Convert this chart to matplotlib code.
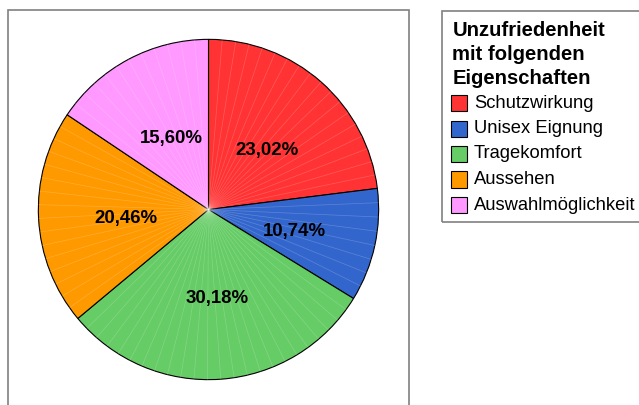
import matplotlib
matplotlib.use("Agg")
import matplotlib.pyplot as plt
from matplotlib.patches import Rectangle
import numpy as np

plt.rcParams['font.family'] = ['Liberation Sans', 'DejaVu Sans']

categories = ["Schutzwirkung", "Unisex Eignung", "Tragekomfort", "Aussehen", "Auswahlmöglichkeit"]
values = [23.02, 10.74, 30.18, 20.46, 15.60]
colors = ["#FF3333", "#3366CC", "#66CC66", "#FF9900", "#FF99FF"]
legend_title = "Unzufriedenheit\nmit folgenden\nEigenschaften"

W, H = 639, 405
fig = plt.figure(figsize=(W / 100, H / 100), dpi=100)
fig.patch.set_facecolor("white")

def fx(px):
    return px / W

def fy(py):  # py from top
    return 1 - py / H

# pie frame box
fig.patches.append(Rectangle((fx(7.5), fy(410)), fx(409) - fx(7.5), fy(9.5) - fy(410),
                             transform=fig.transFigure, fill=False,
                             edgecolor="#808080", lw=1.2))

cx, cy, r = 208.5, 209.5, 171
ax = fig.add_axes([fx(cx - r), fy(cy + r), 2 * r / W, 2 * r / H])
wedges, texts, autotexts = ax.pie(
    values, colors=colors, startangle=90, counterclock=False,
    wedgeprops=dict(edgecolor="black", linewidth=0.8),
    autopct=lambda p: f"{p:.2f}%".replace(".", ","), pctdistance=0.5,
    textprops=dict(fontsize=13.4, fontweight="bold", color="black"))
ax.set_xlim(-1.005, 1.005)
ax.set_ylim(-1.005, 1.005)
ax.set_aspect("auto")
ax.axis("off")

# small optical offset of the percentage labels (px -> data units)
for t in autotexts:
    x, y = t.get_position()
    t.set_position((x + 2.5 / r, y - 4.5 / r))

# faint radial rendering streaks
for w in wedges:
    t1, t2 = w.theta1, w.theta2
    n = max(int((t2 - t1) / 4.5), 1)
    for a in np.linspace(t1, t2, n + 1)[1:-1]:
        rad = np.deg2rad(a)
        ax.plot([0, np.cos(rad)], [0, np.sin(rad)], color="white", lw=0.5, alpha=0.2, zorder=1.5)
for w in wedges:
    w.set_zorder(1)

# legend box
fig.patches.append(Rectangle((fx(441.5), fy(222)), fx(650) - fx(441.5), fy(10.5) - fy(222),
                             transform=fig.transFigure, fill=False,
                             edgecolor="#808080", lw=1.2))
title_lines = legend_title.split("\n")
for i, line in enumerate(title_lines):
    fig.text(fx(452.5), fy(31 + i * 23.5), line, fontsize=14.6, fontweight="bold",
             ha="left", va="center")
for i, (cat, col) in enumerate(zip(categories, colors)):
    yc = 103 + i * 25.5
    fig.patches.append(Rectangle((fx(451), fy(yc + 8)), fx(467) - fx(451), fy(yc - 8) - fy(yc + 8),
                                 transform=fig.transFigure, facecolor=col,
                                 edgecolor="black", lw=0.8))
    fig.text(fx(474), fy(yc), cat, fontsize=13.2, ha="left", va="center")

fig.savefig("out.png", dpi=100, facecolor="white")
